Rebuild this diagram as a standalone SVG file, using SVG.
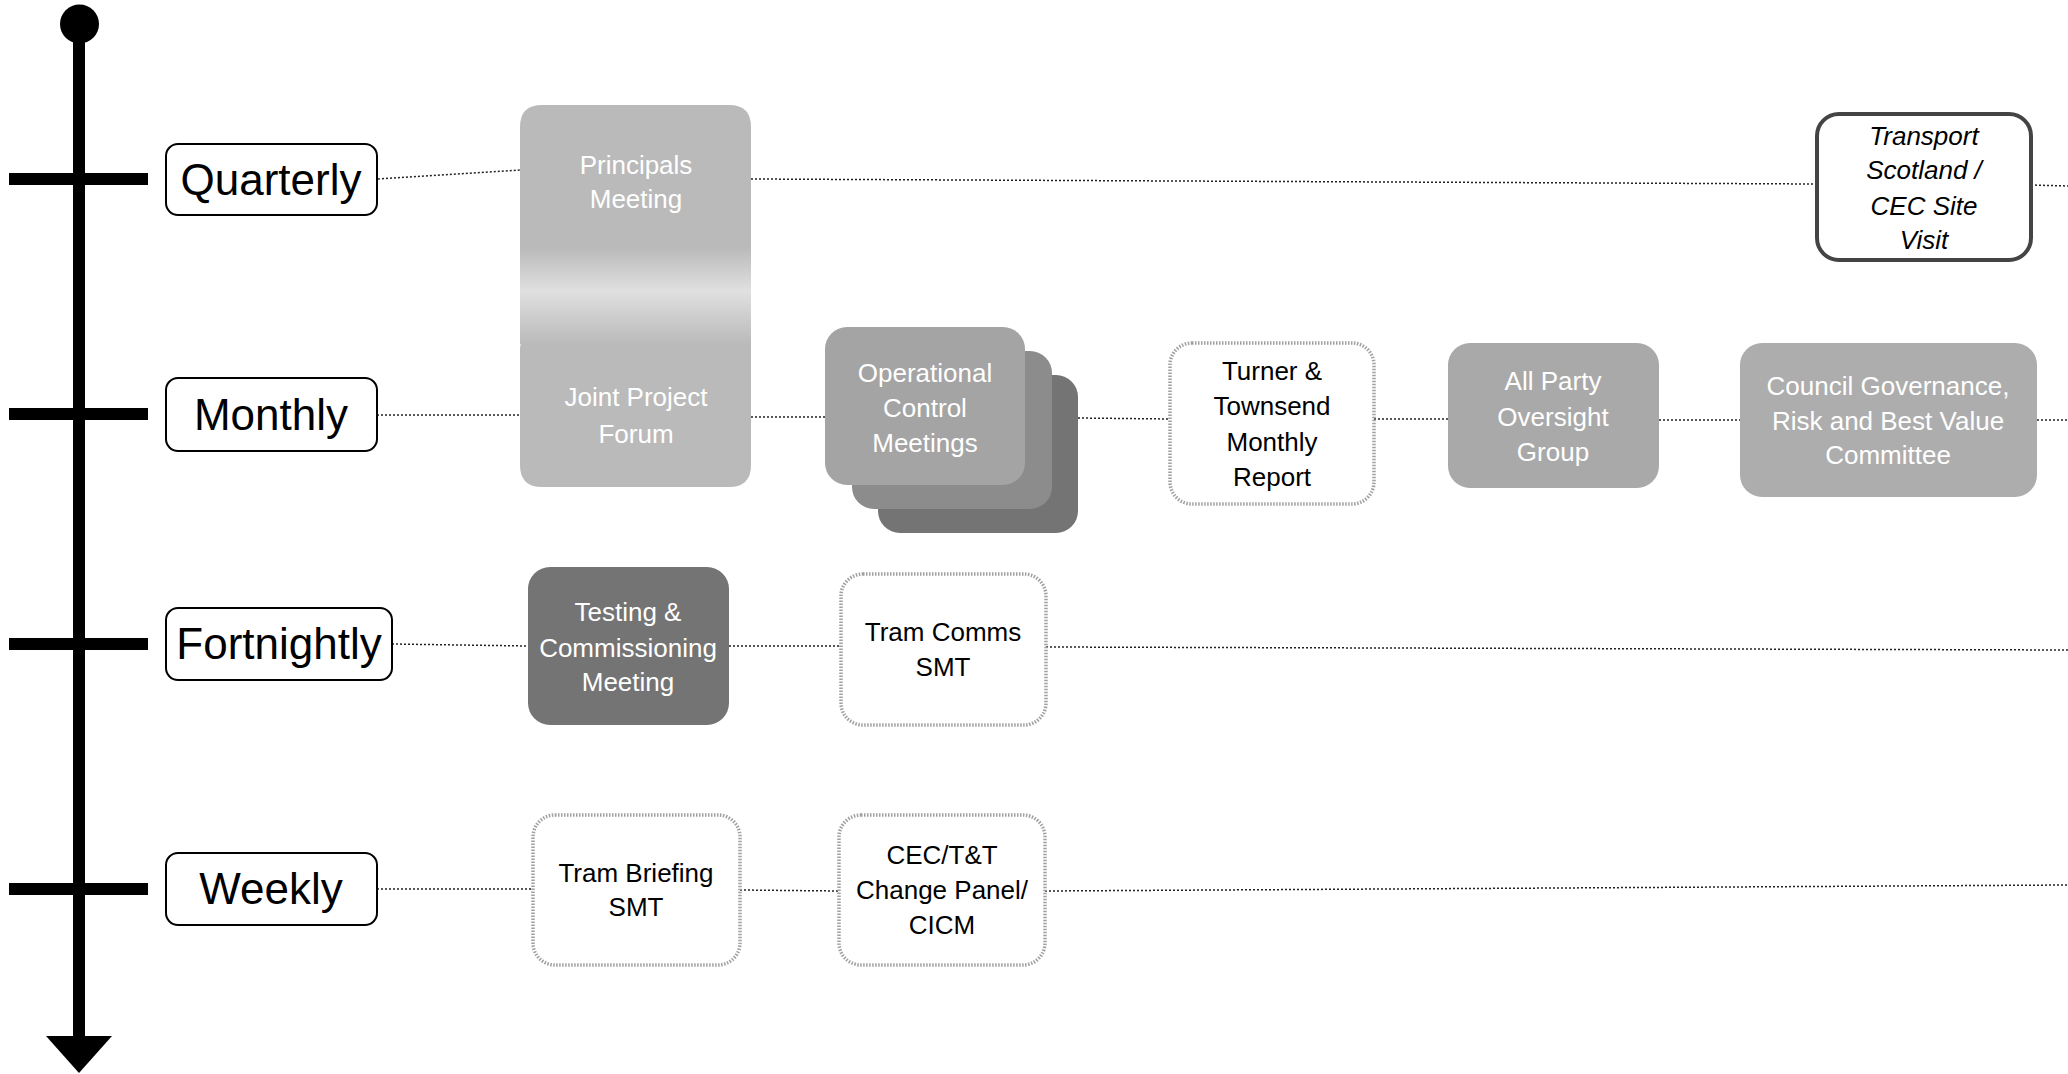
<svg xmlns="http://www.w3.org/2000/svg" width="2068" height="1074" viewBox="0 0 2068 1074">
<style>
  .lbl { fill: #fff; stroke: #000; stroke-width: 2; }
  .lbltxt { font-family: "Liberation Sans", Arial, sans-serif; font-size: 44px; fill: #000; text-anchor: middle; }
  .ntxt { font-family: "Liberation Sans", Arial, sans-serif; font-size: 26px; text-anchor: middle; }
  .wt { fill: #fff; }
  .bt { fill: #000; }
  .it { font-style: italic; }
  .conn { fill: none; stroke: #222; stroke-width: 1.5; stroke-dasharray: 2 2; }
  .dotbox { fill: #fff; stroke: #a0a0a0; stroke-width: 3.5; stroke-dasharray: 1.5 1.5; }
</style>
<defs>
  <linearGradient id="band" gradientUnits="userSpaceOnUse" x1="0" y1="248" x2="0" y2="344">
    <stop offset="0" stop-color="#bababa"/>
    <stop offset="0.45" stop-color="#e0e0e0"/>
    <stop offset="1" stop-color="#bababa"/>
  </linearGradient>
</defs>

<g id="timeline">
  <rect x="73" y="24" width="12" height="1016" fill="#000"/>
  <circle cx="79.5" cy="24" r="19.5" fill="#000"/>
  <polygon points="46,1036 112,1036 79,1073" fill="#000"/>
  <rect x="9" y="173" width="139" height="12" fill="#000"/>
  <rect x="9" y="408" width="139" height="12" fill="#000"/>
  <rect x="9" y="638" width="139" height="12" fill="#000"/>
  <rect x="9" y="883" width="139" height="12" fill="#000"/>
</g>

<g id="connectors">
  <polyline class="conn" points="378,179 521,170"/>
  <polyline class="conn" points="751,179 1817,184"/>
  <polyline class="conn" points="2031,185 2068,186"/>
  <polyline class="conn" points="377,415 521,415"/>
  <polyline class="conn" points="751,417 825,417"/>
  <polyline class="conn" points="1078,418 1170,419"/>
  <polyline class="conn" points="1374,419 1448,419"/>
  <polyline class="conn" points="1659,420 1740,420"/>
  <polyline class="conn" points="2037,420 2068,420"/>
  <polyline class="conn" points="392,644 528,646"/>
  <polyline class="conn" points="729,646 841,646"/>
  <polyline class="conn" points="1046,647 2068,650"/>
  <polyline class="conn" points="377,889 533,889"/>
  <polyline class="conn" points="740,890 839,891"/>
  <polyline class="conn" points="1045,891 2068,885"/>
</g>

<g id="label-quarterly">
  <rect class="lbl" x="166" y="144" width="211" height="71" rx="12"/>
  <text class="lbltxt" x="271" y="195">Quarterly</text>
</g>
<g id="label-monthly">
  <rect class="lbl" x="166" y="378" width="211" height="73" rx="12"/>
  <text class="lbltxt" x="271" y="430">Monthly</text>
</g>
<g id="label-fortnightly">
  <rect class="lbl" x="166" y="608" width="226" height="72" rx="12"/>
  <text class="lbltxt" x="279" y="659">Fortnightly</text>
</g>
<g id="label-weekly">
  <rect class="lbl" x="166" y="853" width="211" height="72" rx="12"/>
  <text class="lbltxt" x="271" y="904">Weekly</text>
</g>

<g id="node-principals-jpf-band">
  <rect x="520" y="247" width="231" height="97" fill="url(#band)"/>
</g>
<g id="node-principals">
  <path d="M520,248 V127 Q520,105 542,105 H729 Q751,105 751,127 V248 Z" fill="#bababa"/>
  <text class="ntxt wt" x="636" y="174">Principals</text>
  <text class="ntxt wt" x="636" y="208">Meeting</text>
</g>
<g id="node-jpf">
  <path d="M522,343 H751 V465 Q751,487 729,487 H542 Q520,487 520,465 V350 Q520,343 522,343 Z" fill="#bababa"/>
  <text class="ntxt wt" x="636" y="406">Joint Project</text>
  <text class="ntxt wt" x="636" y="443">Forum</text>
</g>

<g id="node-operational">
  <rect x="878" y="375" width="200" height="158" rx="22" fill="#747474"/>
  <rect x="852" y="351" width="200" height="158" rx="22" fill="#8c8c8c"/>
  <rect x="825" y="327" width="200" height="158" rx="22" fill="#a4a4a4"/>
  <text class="ntxt wt" x="925" y="382">Operational</text>
  <text class="ntxt wt" x="925" y="417">Control</text>
  <text class="ntxt wt" x="925" y="452">Meetings</text>
</g>

<g id="node-turner">
  <rect class="dotbox" x="1170" y="343" width="204" height="161" rx="22"/>
  <text class="ntxt bt" x="1272" y="380">Turner &amp;</text>
  <text class="ntxt bt" x="1272" y="415">Townsend</text>
  <text class="ntxt bt" x="1272" y="451">Monthly</text>
  <text class="ntxt bt" x="1272" y="486">Report</text>
</g>

<g id="node-allparty">
  <rect x="1448" y="343" width="211" height="145" rx="22" fill="#a9a9a9"/>
  <text class="ntxt wt" x="1553" y="390">All Party</text>
  <text class="ntxt wt" x="1553" y="426">Oversight</text>
  <text class="ntxt wt" x="1553" y="461">Group</text>
</g>

<g id="node-council">
  <rect x="1740" y="343" width="297" height="154" rx="22" fill="#adadad"/>
  <text class="ntxt wt" x="1888" y="395">Council Governance,</text>
  <text class="ntxt wt" x="1888" y="430">Risk and Best Value</text>
  <text class="ntxt wt" x="1888" y="464">Committee</text>
</g>

<g id="node-transport">
  <rect x="1817" y="114" width="214" height="146" rx="22" fill="#fff" stroke="#444" stroke-width="4"/>
  <text class="ntxt bt it" x="1924" y="145">Transport</text>
  <text class="ntxt bt it" x="1924" y="179">Scotland /</text>
  <text class="ntxt bt it" x="1924" y="215">CEC Site</text>
  <text class="ntxt bt it" x="1924" y="249">Visit</text>
</g>

<g id="node-testing">
  <rect x="528" y="567" width="201" height="158" rx="22" fill="#747474"/>
  <text class="ntxt wt" x="628" y="621">Testing &amp;</text>
  <text class="ntxt wt" x="628" y="657">Commissioning</text>
  <text class="ntxt wt" x="628" y="691">Meeting</text>
</g>

<g id="node-tramcomms">
  <rect class="dotbox" x="841" y="574" width="205" height="151" rx="22"/>
  <text class="ntxt bt" x="943" y="641">Tram Comms</text>
  <text class="ntxt bt" x="943" y="676">SMT</text>
</g>

<g id="node-trambriefing">
  <rect class="dotbox" x="533" y="815" width="207" height="150" rx="22"/>
  <text class="ntxt bt" x="636" y="882">Tram Briefing</text>
  <text class="ntxt bt" x="636" y="916">SMT</text>
</g>

<g id="node-cec-tt">
  <rect class="dotbox" x="839" y="815" width="206" height="150" rx="22"/>
  <text class="ntxt bt" x="942" y="864">CEC/T&amp;T</text>
  <text class="ntxt bt" x="942" y="899">Change Panel/</text>
  <text class="ntxt bt" x="942" y="934">CICM</text>
</g>
</svg>
